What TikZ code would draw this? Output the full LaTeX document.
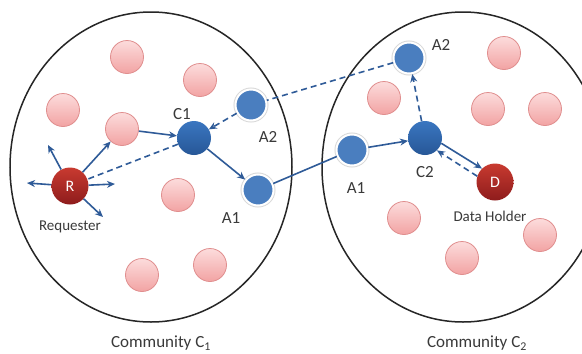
\documentclass[tikz,border=0pt]{standalone}
\usepackage{fontspec}
\setmainfont{Carlito}
\usetikzlibrary{arrows.meta}
\definecolor{arrowblue}{HTML}{2F5B98}
\definecolor{pinkT}{HTML}{FCDCDC}
\definecolor{pinkB}{HTML}{F2A3A3}
\definecolor{pinkD}{HTML}{E08E8E}
\definecolor{blueT}{HTML}{3A76C0}
\definecolor{blueB}{HTML}{275797}
\definecolor{blueA}{HTML}{4A7EBF}
\definecolor{redT}{HTML}{C83A30}
\definecolor{redB}{HTML}{8E1C1C}
\definecolor{txt}{HTML}{3A3A3A}
\tikzset{
  pinknode/.style={circle, minimum size=33pt, inner sep=0pt, draw=pinkD, line width=0.8pt, top color=pinkT, bottom color=pinkB},
  cnode/.style={circle, minimum size=34pt, inner sep=0pt, top color=blueT, bottom color=blueB},
  anode/.style={circle, minimum size=31pt, inner sep=0pt, fill=blueA, draw=white, line width=2pt, preaction={draw=black!15, line width=4pt}},
  rnode/.style={circle, minimum size=37pt, inner sep=0pt, top color=redT, bottom color=redB, text=white, font=\fontsize{16}{16}\selectfont},
  lbl/.style={text=txt, inner sep=0pt, font=\fontsize{17}{17}\selectfont},
  slbl/.style={text=txt, inner sep=0pt, font=\fontsize{15}{15}\selectfont},
  arr/.style={draw=arrowblue, line width=1.6pt, -{Stealth[length=8pt,width=7pt]}},
  lin/.style={draw=arrowblue, line width=1.6pt},
  darr/.style={draw=arrowblue, line width=1.6pt, dash pattern=on 6pt off 4pt, -{Stealth[length=8pt,width=7pt]}},
  dlin/.style={draw=arrowblue, line width=1.6pt, dash pattern=on 6pt off 4pt},
  community/.style={draw=black!85, line width=1.5pt}
}
\begin{document}
\begin{tikzpicture}[x=1pt,y=-1pt]
\useasboundingbox (0,0) rectangle (582,354);
\fill[white] (0,0) rectangle (582,354);
\begin{scope}
\clip (0,0) rectangle (582,354);
\draw[community] (151,167) ellipse [x radius=141, y radius=155];
\draw[community] (463,167) ellipse [x radius=141, y radius=155];
\end{scope}
% left community pink nodes
\node[pinknode] (p1) at (127,57) {};
\node[pinknode] (p2) at (200,80) {};
\node[pinknode] (p3) at (63,110) {};
\node[pinknode] (p4) at (122,129) {};
\node[pinknode] (p5) at (178,195) {};
\node[pinknode] (p6) at (142,275) {};
\node[pinknode] (p7) at (210,265) {};
% right community pink nodes
\node[pinknode] (q1) at (384,98) {};
\node[pinknode] (q2) at (504,53) {};
\node[pinknode] (q3) at (488,109) {};
\node[pinknode] (q4) at (545,109) {};
\node[pinknode] (q5) at (404,218) {};
\node[pinknode] (q6) at (540,235) {};
\node[pinknode] (q7) at (462,258) {};
% special nodes
\node[rnode] (R) at (70,186) {R};
\node[cnode] (C1) at (194,138) {};
\node[anode] (A2L) at (251,105) {};
\node[anode] (A1L) at (258,190) {};
\node[anode] (A1R) at (352,150) {};
\node[cnode] (C2) at (425,138) {};
\node[anode] (A2R) at (409,58) {};
\node[rnode] (D) at (495,182) {D};
% labels
\node[lbl] (lC1) at (182,114) {C1};
\node[lbl] (lA2L) at (268,137) {A2};
\node[lbl] (lA1L) at (231,218) {A1};
\node[slbl] (lReq) at (70,227) {Requester};
\node[lbl] (lA2R) at (441,45) {A2};
\node[lbl] (lA1R) at (356,188) {A1};
\node[lbl] (lC2) at (425,172) {C2};
\node[slbl] (lDH) at (490,216) {Data Holder};
\node[lbl] (com1) at (161,343) {Community C\textsubscript{1}};
\node[lbl] (com2) at (477,343) {Community C\textsubscript{2}};
% free ends of the requester's broadcast arrows
\coordinate (t1) at (48,145);
\coordinate (t2) at (27,183);
\coordinate (t3) at (115,184);
\coordinate (t4) at (103,217);
\draw[arr] (R) -- (t1);
\draw[arr] (R) -- (t2);
\draw[arr] (R) -- (t3);
\draw[arr] (R) -- (t4);
% request path
\draw[arr] (R) -- (p4);
\draw[arr] (p4) -- (C1);
\draw[arr] (C1) -- (A1L);
\draw[lin] (A1L) -- (A1R);
\draw[arr] (A1R) -- (C2);
\draw[arr] (C2.-18) -- (D.134);
% reply path
\draw[darr] (D.162) -- (C2.-46);
\draw[darr] (C2) -- (A2R);
\draw[dlin] (A2R) -- (A2L);
\draw[darr] (A2L) -- (C1);
\draw[dlin] (C1) -- (R);
\end{tikzpicture}
\end{document}
